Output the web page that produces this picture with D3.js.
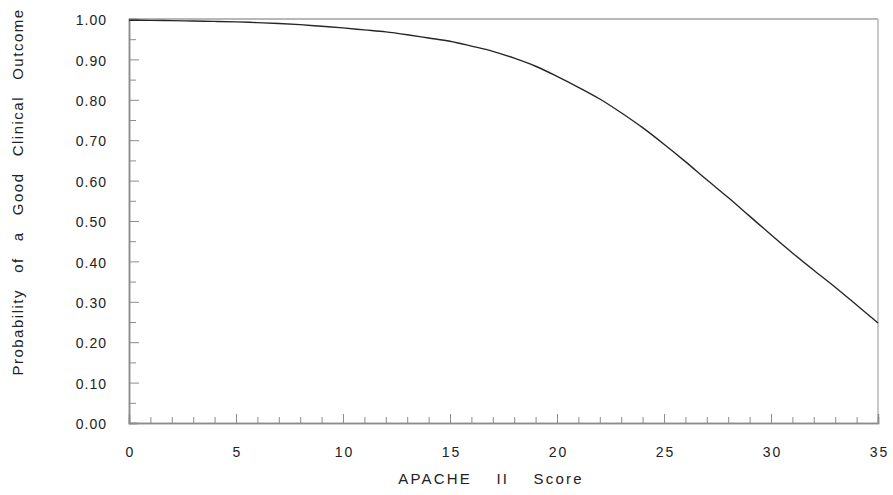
<!DOCTYPE html>
<html>
<head>
<meta charset="utf-8">
<script src="https://cdn.jsdelivr.net/npm/d3@7"></script>
<style>
  body { margin: 0; background: #fff; }
  svg { display: block; font-family: "Liberation Sans", Arial, sans-serif; }
</style>
</head>
<body>
<svg width="893" height="495"></svg>
<script>
// APACHE II score vs probability of good outcome
var scores = [0, 1, 2, 3, 4, 5, 6, 7, 8, 9, 10, 11, 12, 13, 14, 15, 16, 17,
  18, 19, 20, 21, 22, 23, 24, 25, 26, 27, 28, 29, 30, 31, 32, 33, 34, 35];
var probs = [0.997, 0.9965, 0.996, 0.995, 0.994, 0.993, 0.991, 0.989, 0.986, 0.982,
  0.978, 0.973, 0.968, 0.961, 0.953, 0.945, 0.933, 0.920, 0.903, 0.883,
  0.858, 0.831, 0.802, 0.768, 0.731, 0.690, 0.647, 0.602, 0.558, 0.512,
  0.466, 0.421, 0.378, 0.336, 0.292, 0.2475];
var xMajor = [0, 5, 10, 15, 20, 25, 30, 35];
var yMajor = [0, 0.1, 0.2, 0.3, 0.4, 0.5, 0.6, 0.7, 0.8, 0.9, 1.0];

var margin = {left: 129, right: 15, top: 19, bottom: 72};
var w = 893, h = 495;

var svg = d3.select("svg");

var x = d3.scaleLinear().domain([0, 35]).range([margin.left, w - margin.right]);
var y = d3.scaleLinear().domain([0, 1]).range([h - margin.bottom, margin.top]);

// frame top / right
svg.append("line")
    .attr("x1", x(0)).attr("x2", x(35))
    .attr("y1", y(1)).attr("y2", y(1))
    .attr("stroke", "#a0a0a0").attr("stroke-width", 1.5);
svg.append("line")
    .attr("x1", x(35)).attr("x2", x(35))
    .attr("y1", y(1)).attr("y2", y(0))
    .attr("stroke", "#c8c8c8").attr("stroke-width", 2);

// minor ticks
var xMinor = d3.range(0, 36).filter(d => d % 5 != 0);
var yMinor = d3.range(0, 10).map(d => d / 10 + 0.05);

var xAxisMinor = svg.append("g")
    .attr("transform", "translate(0," + y(0) + ")")
    .call(d3.axisBottom(x).tickValues(xMinor).tickSize(-6).tickFormat(""));
var yAxisMinor = svg.append("g")
    .attr("transform", "translate(" + x(0) + ",0)")
    .call(d3.axisLeft(y).tickValues(yMinor).tickSize(-7).tickFormat(""));

var xAxis = svg.append("g")
    .attr("transform", "translate(0," + y(0) + ")")
    .call(d3.axisBottom(x).tickValues(xMajor).tickSize(-9).tickPadding(24).tickFormat(d3.format("d")));
var yAxis = svg.append("g")
    .attr("transform", "translate(" + x(0) + ",0)")
    .call(d3.axisLeft(y).tickValues(yMajor).tickSize(-10).tickPadding(22).tickFormat(d3.format(".2f")));

[xAxisMinor, yAxisMinor, xAxis, yAxis].forEach(function (g) {
    g.selectAll(".domain").attr("stroke", "#8c8c8c").attr("stroke-width", 1.5);
    g.selectAll(".tick line").attr("stroke", "#8c8c8c");
});

xAxis.selectAll("text")
    .attr("font-size", 14).attr("fill", "#222")
    .attr("letter-spacing", "2px").attr("dx", "1px");
yAxis.selectAll("text")
    .attr("font-size", 14).attr("fill", "#222")
    .attr("letter-spacing", "1px").attr("dy", "0.4em");

// curve
var line = d3.line()
    .x((d, i) => x(scores[i]))
    .y(d => y(d))
    .curve(d3.curveMonotoneX);

svg.append("path")
    .datum(probs)
    .attr("d", line)
    .attr("fill", "none")
    .attr("stroke", "#262626")
    .attr("stroke-width", 1.4);

// axis titles
svg.append("text")
    .attr("x", 491).attr("y", 484)
    .attr("text-anchor", "middle")
    .attr("font-size", 15).attr("fill", "#222")
    .attr("letter-spacing", "2.2px")
    .attr("word-spacing", "18px")
    .text("APACHE II Score");

svg.append("text")
    .attr("transform", "translate(23,192) rotate(-90)")
    .attr("text-anchor", "middle")
    .attr("font-size", 15).attr("fill", "#222")
    .attr("letter-spacing", "1.5px")
    .attr("word-spacing", "10.5px")
    .text("Probability of a Good Clinical Outcome");
</script>
</body>
</html>
